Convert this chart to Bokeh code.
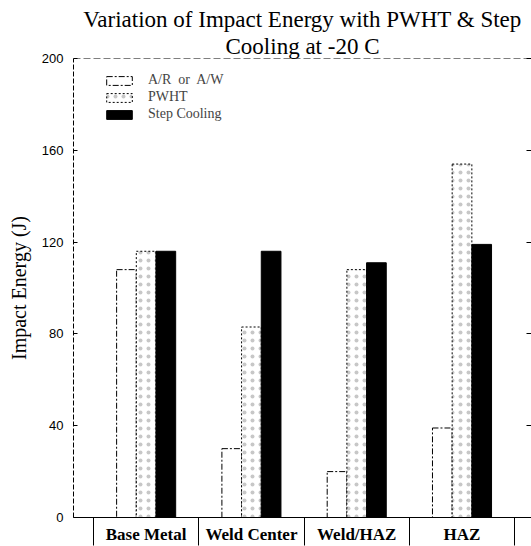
import numpy as np
from bokeh.plotting import figure
from bokeh.models import (Range1d, FixedTicker, LinearAxis, Legend, LegendItem,
                          ColumnDataSource, Title, Span)
from bokeh.embed import file_html
from bokeh.resources import INLINE

categories = ["Base Metal", "Weld Center", "Weld/HAZ", "HAZ"]
series_names = ["A/R  or  A/W", "PWHT", "Step Cooling"]
ar_aw = [108, 30, 20, 39]
pwht = [116, 83, 108, 154]
step_cooling = [116, 116, 111, 119]
y_ticks = [0, 40, 80, 120, 160, 200]
title_lines = ["Variation of Impact Energy with PWHT & Step", "Cooling at -20 C"]

SERIF = "Liberation Serif"
SANS = "Liberation Sans"

centers = np.arange(len(categories))
bw = 0.187
offsets = [-bw, 0.0, bw]

p = figure(width=531, height=546, output_backend="svg", toolbar_location=None,
           x_range=Range1d(-0.69, 3.66), y_range=Range1d(y_ticks[0], y_ticks[-1]),
           min_border_left=73, min_border_right=0, min_border_top=58, min_border_bottom=28,
           background_fill_color="white", border_fill_color="white", title=None)
p.outline_line_color = None
p.grid.visible = False

styles = [
    dict(fill_color="white", line_color="black", line_dash="6 2 2 2", line_width=1),
    dict(fill_color="white", line_color="black", line_dash="2 2", line_width=1,
         hatch_pattern="dot", hatch_color="black", hatch_alpha=0.22, hatch_scale=8, hatch_weight=0.6),
    dict(fill_color="black", line_color="black", line_width=1),
]
renderers = []
for vals, off, st in zip([ar_aw, pwht, step_cooling], offsets, styles):
    src = ColumnDataSource(dict(x=centers + off, top=vals))
    r = p.vbar(x="x", top="top", bottom=0, width=bw, source=src, **st)
    renderers.append(r)

# x axis
xa = p.xaxis[0]
xa.ticker = FixedTicker(ticks=list(centers), minor_ticks=list(centers - 0.5) + [len(categories) - 0.5])
xa.major_label_overrides = {int(i): c for i, c in zip(centers, categories)}
xa.major_tick_line_color = None
xa.major_tick_out = 0
xa.major_tick_in = 0
xa.minor_tick_line_color = "black"
xa.minor_tick_out = 28
xa.minor_tick_in = 0
xa.axis_line_color = "black"
xa.major_label_text_font = SERIF
xa.major_label_text_font_size = "17px"
xa.major_label_text_font_style = "bold"
xa.major_label_text_color = "black"
xa.major_label_standoff = -21

# y axis
ya = p.yaxis[0]
ya.ticker = FixedTicker(ticks=y_ticks)
ya.axis_line_dash = "5 2"
ya.axis_line_color = "black"
ya.major_tick_in = 4
ya.major_tick_out = 0
ya.minor_tick_line_color = None
ya.major_label_text_font = SANS
ya.major_label_text_font_size = "13px"
ya.major_label_text_color = "black"
ya.major_label_standoff = 10
ya.axis_label = "Impact Energy (J)"
ya.axis_label_text_font = SERIF
ya.axis_label_text_font_size = "20px"
ya.axis_label_text_font_style = "normal"
ya.axis_label_text_color = "black"
ya.axis_label_standoff = 9

# right axis (ticks only)
ra = LinearAxis(ticker=FixedTicker(ticks=y_ticks))
ra.axis_line_color = None
ra.major_tick_in = 5
ra.major_tick_out = 0
ra.minor_tick_line_color = None
ra.major_label_text_font_size = "0px"
ra.major_label_text_color = None
ra.major_label_standoff = 0
p.add_layout(ra, "right")

# dashed top border at the top tick value
p.add_layout(Span(location=y_ticks[-1], dimension="width", line_color="black",
                  line_dash="7 3", line_width=1))

# two-line title (later-added title sits further from the frame)
for txt in reversed(title_lines):
    p.add_layout(Title(text=txt, align="center", text_font=SERIF, text_font_size="23px",
                       text_font_style="normal", text_color="black", standoff=0), "above")

legend = Legend(items=[LegendItem(label=n, renderers=[r]) for n, r in zip(series_names, renderers)],
                location=(30, 395), orientation="vertical",
                glyph_width=32, glyph_height=11, label_height=13, spacing=1,
                label_text_font=SERIF, label_text_font_size="14px", label_standoff=13,
                padding=0, margin=0, border_line_color=None, background_fill_alpha=0)
p.add_layout(legend, "center")

open("out.html", "w").write(file_html(p, INLINE))
